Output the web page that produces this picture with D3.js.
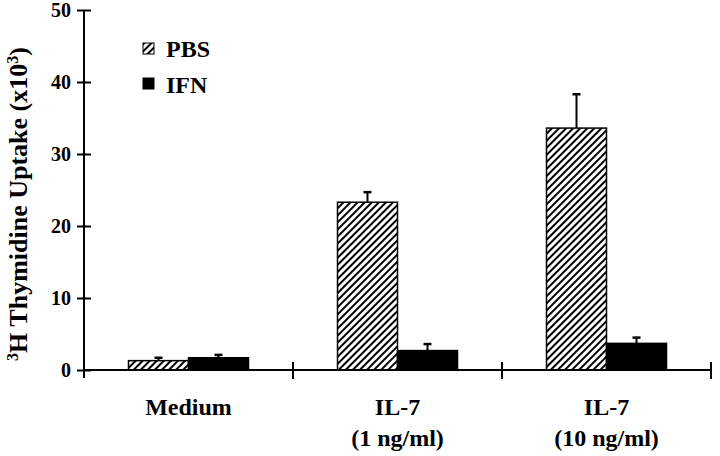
<!DOCTYPE html>
<html>
<head>
<meta charset="utf-8">
<script src="https://cdn.jsdelivr.net/npm/d3@7"></script>
<style>
  body { margin: 0; background: #fff; }
  text { font-family: "Liberation Serif", "Times New Roman", serif; font-weight: bold; }
</style>
</head>
<body>
<script>
var categories = ["Medium", "IL-7 (1 ng/ml)", "IL-7 (10 ng/ml)"];
var labelLine1 = ["Medium", "IL-7", "IL-7"];
var labelLine2 = ["", "(1 ng/ml)", "(10 ng/ml)"];
var series = ["PBS", "IFN"];
var pbsValues = [1.3, 23.3, 33.6];
var pbsErrors = [0.4, 1.4, 4.7];
var ifnValues = [1.7, 2.7, 3.7];
var ifnErrors = [0.4, 0.9, 0.8];
var yTicks = [0, 10, 20, 30, 40, 50];

var width = 720, height = 456;
var svg = d3.select("body").append("svg").attr("width", width).attr("height", height);

var defs = svg.append("defs");
var pat = defs.append("pattern")
  .attr("id", "hatch")
  .attr("patternUnits", "userSpaceOnUse")
  .attr("width", 5).attr("height", 5)
  .attr("patternTransform", "rotate(45)");
pat.append("rect").attr("width", 5).attr("height", 5).attr("fill", "#fff");
pat.append("line").attr("x1", 1).attr("y1", 0).attr("x2", 1).attr("y2", 5)
  .attr("stroke", "#000").attr("stroke-width", 2);

var x = d3.scaleBand().domain(categories).range([84, 711]).padding(0);
var y = d3.scaleLinear().domain([0, 50]).range([370, 10]);
var barW = 60;
var xs = d3.scaleBand().domain(series)
  .range([x.bandwidth() / 2 - barW, x.bandwidth() / 2 + barW]);

var data = [];
categories.forEach(function(c, i){
  data.push({cat: c, key: "PBS", value: pbsValues[i], err: pbsErrors[i]});
  data.push({cat: c, key: "IFN", value: ifnValues[i], err: ifnErrors[i]});
});
var fill = function(k){ return k === "PBS" ? "url(#hatch)" : "#000"; };

// error bars (drawn first, bar covers the lower part)
var eb = svg.append("g");
data.forEach(function(d){
  var cx = x(d.cat) + xs(d.key) + xs.bandwidth() / 2;
  eb.append("line").attr("x1", cx).attr("x2", cx)
    .attr("y1", y(d.value)).attr("y2", y(d.value + d.err))
    .attr("stroke", "#000").attr("stroke-width", 2);
  eb.append("line").attr("x1", cx - 4).attr("x2", cx + 4)
    .attr("y1", y(d.value + d.err)).attr("y2", y(d.value + d.err))
    .attr("stroke", "#000").attr("stroke-width", 2.5);
});

svg.append("g").selectAll("rect").data(data).enter().append("rect")
  .attr("x", function(d){ return x(d.cat) + xs(d.key); })
  .attr("y", function(d){ return y(d.value); })
  .attr("width", xs.bandwidth())
  .attr("height", function(d){ return y(0) - y(d.value); })
  .attr("fill", function(d){ return fill(d.key); })
  .attr("stroke", "#000").attr("stroke-width", 1.5);

// y axis
var yAxis = svg.append("g").attr("transform", "translate(84,0)")
  .call(d3.axisLeft(y).tickValues(yTicks).tickSize(7).tickPadding(6));
yAxis.select(".domain").remove();
yAxis.selectAll(".tick line").attr("x1", -7).attr("x2", 7).attr("stroke-width", 2);
yAxis.selectAll(".tick text").attr("font-size", 20).attr("fill", "#000")
  .attr("font-family", "Liberation Serif").attr("font-weight", "bold");
svg.append("line").attr("x1", 84).attr("x2", 84).attr("y1", y(50)).attr("y2", 378)
  .attr("stroke", "#000").attr("stroke-width", 2);

// x axis
svg.append("line").attr("x1", 84).attr("x2", 711).attr("y1", y(0)).attr("y2", y(0))
  .attr("stroke", "#000").attr("stroke-width", 2);
svg.append("g").selectAll("line").data(categories).enter().append("line")
  .attr("x1", function(d){ return x(d) + x.bandwidth(); })
  .attr("x2", function(d){ return x(d) + x.bandwidth(); })
  .attr("y1", y(0) - 8).attr("y2", y(0) + 9)
  .attr("stroke", "#000").attr("stroke-width", 2);

var lab = svg.append("g").selectAll("text").data(categories).enter().append("text")
  .attr("text-anchor", "middle").attr("font-size", 24)
  .attr("x", function(d){ return x(d) + x.bandwidth() / 2; })
  .attr("y", 415);
lab.append("tspan").text(function(d, i){ return labelLine1[i]; });
lab.append("tspan").attr("x", function(d){ return x(d) + x.bandwidth() / 2; })
  .attr("dy", 31).text(function(d, i){ return labelLine2[i]; });

// y label
var yl = svg.append("text").attr("transform", "translate(27,204) rotate(-90)")
  .attr("text-anchor", "middle").attr("font-size", 26);
yl.append("tspan").attr("font-size", 16).attr("dy", -9).text("3");
yl.append("tspan").attr("dy", 9).text("H Thymidine Uptake (x10");
yl.append("tspan").attr("font-size", 16).attr("dy", -9).text("3");
yl.append("tspan").attr("dy", 9).text(")");

// legend
var lg = svg.append("g").attr("transform", "translate(143,43)");
series.forEach(function(s, i){
  lg.append("rect").attr("x", 0).attr("y", i * 35).attr("width", 11).attr("height", 11)
    .attr("fill", fill(s)).attr("stroke", "#000").attr("stroke-width", 1);
  lg.append("text").attr("x", 23).attr("y", i * 36 + 14).attr("font-size", 24).text(s);
});
</script>
</body>
</html>
